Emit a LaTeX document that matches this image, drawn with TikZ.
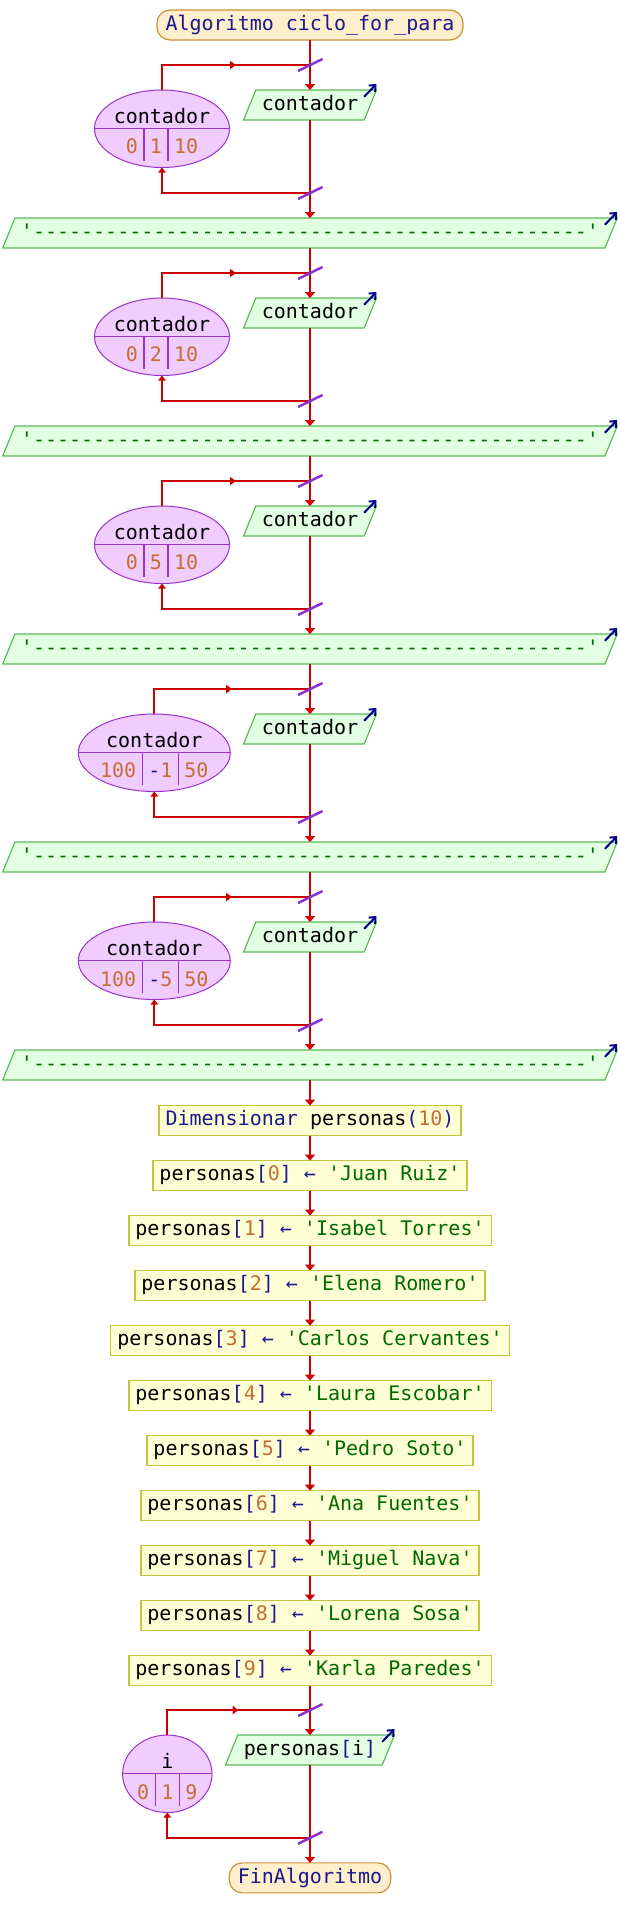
\documentclass[tikz,border=0pt]{standalone}
\usepackage{fontspec}
\setmonofont{DejaVu Sans Mono}
\usepackage{tikz}
\usetikzlibrary{arrows.meta, positioning, shapes.geometric, calc, decorations.markings}
\usepackage{xcolor}
\definecolor{flujo}{RGB}{204,0,0}
\definecolor{marca}{RGB}{136,51,204}
\definecolor{azul}{RGB}{25,25,140}
\definecolor{tinta}{RGB}{0,0,128}
\definecolor{numero}{RGB}{196,110,50}
\definecolor{cadena}{RGB}{0,105,0}
\definecolor{termfondo}{RGB}{255,239,204}
\definecolor{termborde}{RGB}{204,145,51}
\definecolor{salfondo}{RGB}{226,255,226}
\definecolor{salborde}{RGB}{92,184,92}
\definecolor{procfondo}{RGB}{255,255,214}
\definecolor{procborde}{RGB}{196,196,64}
\definecolor{varfondo}{RGB}{240,204,255}
\definecolor{varborde}{RGB}{153,51,204}
\newcommand{\nro}[1]{\textcolor{numero}{#1}}
\newcommand{\azl}[1]{\textcolor{azul}{#1}}
\newcommand{\cad}[1]{\textcolor{cadena}{#1}}
\newcommand{\guiones}{\cad{'----------------------------------------------'}}
\setlength{\tabcolsep}{6pt}
\setlength{\arrayrulewidth}{1.2pt}
\renewcommand{\arraystretch}{0.5}

\begin{document}
\begin{tikzpicture}[x=1pt, y=1pt,
    node distance=25pt,
    every node/.style={font=\ttfamily\fontsize{20}{24}\selectfont},
    caja/.style={line width=1.2pt, outer sep=0pt, text height=15.2pt, text depth=4.4pt, inner ysep=5.2pt},
    term/.style={caja, draw=termborde, fill=termfondo, rounded corners=13pt, inner xsep=8.5pt, text=azul},
    proc/.style={caja, draw=procborde, fill=procfondo, inner xsep=6.5pt},
    sal/.style={caja, trapezium, trapezium left angle=67.7, trapezium right angle=112.3, draw=salborde, fill=salfondo, inner xsep=6pt},
    var/.style={ellipse, draw=varborde, fill=varfondo, line width=1pt, outer sep=0pt, minimum height=77.5pt, inner sep=0pt},
    divi/.style={draw=varborde, line width=1.2pt},
    flecha/.style={-{Triangle[length=6pt, width=10pt]}, line width=2.2pt, color=flujo},
    linea/.style={line width=2.2pt, color=flujo},
    vuelta/.style={-{Triangle[length=5pt, width=7.5pt]}, line width=2.2pt, color=flujo},
    medio/.style={postaction={decorate}, decoration={markings, mark=at position 0.5 with {\arrow{Triangle[length=6pt, width=8pt]}}}},
    tilde/.style={line width=2.5pt, color=marca},
    escribe/.style={-{Straight Barb[length=5pt, width=9pt]}, line width=2pt, color=tinta}
  ]
  \useasboundingbox (0,0) rectangle (620,-1928);
  \node[term] (ini) at (310,-25) {Algoritmo ciclo\_for\_para};
  \foreach \k/\prev/\dx/\ew/\va/\vb/\vc in {0/ini/-148/135/0/1/10, 1/p0/-148/135/0/2/10, 2/p1/-148/135/0/5/10, 3/p2/-155.7/152/100/\azl{-}1/50, 4/p3/-155.7/152/100/\azl{-}5/50} {
    \node[sal, below=50pt of \prev] (o\k) {contador};
    \node[var, minimum width=\ew, anchor=north] (e\k) at ([xshift=\dx]o\k.north) {};
    \node[anchor=base] (n\k) at ([yshift=5pt]e\k.center) {contador};
    \draw[divi] (e\k.west) -- (e\k.east);
    \node[anchor=north, inner sep=0pt, text=varborde] (c\k) at (e\k.center)
      {\begin{tabular}{c|c|c}\rule[-7.4pt]{0pt}{32.4pt}\nro{\va} & \nro{\vb} & \nro{\vc}\end{tabular}};
    \coordinate[above=25pt of o\k] (t\k);
    \coordinate[below=73pt of o\k] (b\k);
    \node[sal, below=98pt of o\k] (p\k) {\guiones};
    \draw[flecha] (\prev.south) -- (o\k.north);
    \draw[flecha] (o\k.south) -- (p\k.north);
    \draw[linea] (e\k.north) |- (t\k);
    \draw[linea, medio] (e\k.north |- t\k) -- (t\k);
    \draw[vuelta] (b\k) -| (e\k.south);
    \draw[tilde] ([shift={(-12pt,-6pt)}]t\k) -- ([shift={(12.5pt,6pt)}]t\k);
    \draw[tilde] ([shift={(-12pt,-6pt)}]b\k) -- ([shift={(12.5pt,6pt)}]b\k);
    \draw[escribe] ($(o\k.north -| o\k.bottom right corner)+(0,-6.7)$) -- ($(o\k.top right corner)+(0,6)$);
    \draw[escribe] ($(p\k.north -| p\k.bottom right corner)+(0,-6.7)$) -- ($(p\k.top right corner)+(0,6)$);
  }
  \node[proc, below=25.5pt of p4] (dim) {\azl{Dimensionar} personas\azl{(}\nro{10}\azl{)}};
  \draw[flecha] (p4.south) -- (dim.north);
  \foreach \i/\prev/\nombre in {0/dim/Juan Ruiz, 1/s0/Isabel Torres, 2/s1/Elena Romero, 3/s2/Carlos Cervantes, 4/s3/Laura Escobar, 5/s4/Pedro Soto, 6/s5/Ana Fuentes, 7/s6/Miguel Nava, 8/s7/Lorena Sosa, 9/s8/Karla Paredes} {
    \node[proc, below=of \prev] (s\i) {personas\azl{[}\nro{\i}\azl{]} \azl{←} \cad{'\nombre'}};
    \draw[flecha] (\prev.south) -- (s\i.north);
  }
  \node[sal, below=49.5pt of s9] (oi) {personas\azl{[}i\azl{]}};
  \node[var, minimum width=89.4, anchor=north] (ei) at ([xshift=-142.7]oi.north) {};
  \node[anchor=base] (ni) at ([yshift=5pt]ei.center) {i};
  \draw[divi] (ei.west) -- (ei.east);
  \node[anchor=north, inner sep=0pt, text=varborde] (ci) at (ei.center)
    {\begin{tabular}{c|c|c}\rule[-7.4pt]{0pt}{32.4pt}\nro{0} & \nro{1} & \nro{9}\end{tabular}};
  \coordinate[above=25pt of oi] (ti);
  \coordinate[below=72.7pt of oi] (bi);
  \node[term, below=97.8pt of oi] (fin) {FinAlgoritmo};
  \draw[flecha] (s9.south) -- (oi.north);
  \draw[flecha] (oi.south) -- (fin.north);
  \draw[linea] (ei.north) |- (ti);
  \draw[linea, medio] (ei.north |- ti) -- (ti);
  \draw[vuelta] (bi) -| (ei.south);
  \draw[tilde] ([shift={(-12pt,-6pt)}]ti) -- ([shift={(12.5pt,6pt)}]ti);
  \draw[tilde] ([shift={(-12pt,-6pt)}]bi) -- ([shift={(12.5pt,6pt)}]bi);
  \draw[escribe] ($(oi.north -| oi.bottom right corner)+(0,-6.7)$) -- ($(oi.top right corner)+(0,6)$);
\end{tikzpicture}
\end{document}
